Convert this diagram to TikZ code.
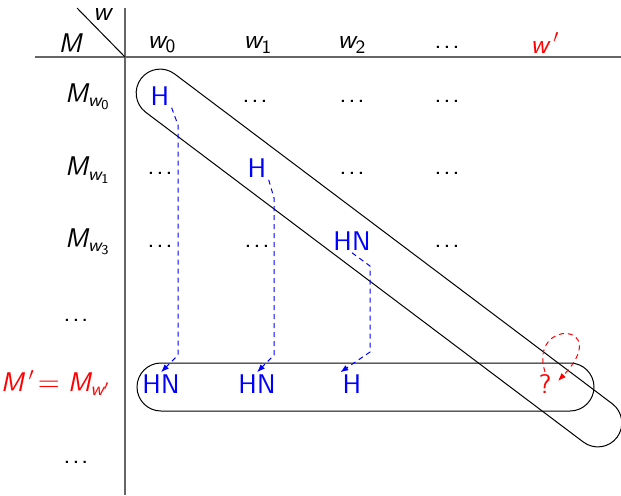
\documentclass[tikz,border=0pt]{standalone}
\usepackage{amsmath}
\usetikzlibrary{arrows.meta}
\newcommand{\vv}[1]{\textsf{\itshape #1}}
\newcommand{\dd}[1]{\textsf{#1}}
\newcommand{\dts}{.\kern0.8pt.\kern0.8pt.}
\begin{document}
\begin{tikzpicture}[x=0.5pt,y=-0.5pt,
  every node/.style={font=\sffamily\fontsize{13.5}{16}\selectfont, inner sep=1pt},
  rule/.style={draw=black!60, line width=0.7pt},
  cell/.style={anchor=center},
  hcell/.style={anchor=center, text=blue},
  rowlab/.style={anchor=east},
  capsule/.style={draw, line width=0.5pt, inner sep=0pt, rounded corners=12pt, minimum height=24pt},
  flow/.style={blue, dash pattern=on 2.5pt off 2pt, line width=0.5pt, -{Latex[length=4pt,width=3pt]}}
]
\useasboundingbox (0,0) rectangle (621,495);
% table rules
\coordinate (vt) at (125,8);
\coordinate (vb) at (125,495);
\coordinate (hl) at (35,57);
\coordinate (hr) at (621,57);
\coordinate (dg) at (77,8);
\coordinate (cr) at (125,57);
\draw[rule] (vt) -- (vb);
\draw[rule] (hl) -- (hr);
\draw[line width=0.5pt] (dg) -- (cr);
\node (hw) at (102,14) {$\vv{w}$};
\node (hM) at (70,43) {$\vv{M}$};
% column headers
\node (c0) at (162,45) {$\vv{w}_{\dd{0}}$};
\node (c1) at (258,45) {$\vv{w}_{\dd{1}}$};
\node (c2) at (352,45) {$\vv{w}_{\dd{2}}$};
\node (c3) at (447,47) {\dts};
\node[text=red] (c4) at (545,43) {$\vv{w}\,'$};
% row labels
\node[rowlab] (r0) at (113,97) {$\vv{M}_{\vv{w}_{\dd{0}}}$};
\node[rowlab] (r1) at (113,170) {$\vv{M}_{\vv{w}_{\dd{1}}}$};
\node[rowlab] (r2) at (113,242) {$\vv{M}_{\vv{w}_{\dd{3}}}$};
\node[rowlab] (r3) at (91,320) {\dts};
\node[rowlab,text=red] (r4) at (113,383) {$\vv{M}\,'\mkern-3mu = \vv{M}_{\vv{w}'}$};
\node[rowlab] (r5) at (91,462) {\dts};
% cells
\node[hcell] (h00) at (160,96) {H};
\node[cell] (h01) at (255,101) {\dts};
\node[cell] (h02) at (352,101) {\dts};
\node[cell] (h03) at (447,101) {\dts};
\node[cell] (h10) at (160,173) {\dts};
\node[hcell] (h11) at (257,168) {H};
\node[cell] (h12) at (352,173) {\dts};
\node[cell] (h13) at (447,173) {\dts};
\node[cell] (h20) at (160,246) {\dts};
\node[cell] (h21) at (257,246) {\dts};
\node[hcell] (h22) at (352,241) {HN};
\node[cell] (h23) at (447,246) {\dts};
\node[hcell] (h40) at (161,384) {HN};
\node[hcell] (h41) at (257,384) {HN};
\node[hcell] (h42) at (352,384) {H};
\node[cell,text=red] (h44) at (545,384) {?};
% capsules
\node[capsule, minimum width=298pt, rotate=-37] (diag) at (379,258) {};
\node[capsule, minimum width=228.5pt] (hcap) at (365.5,387) {};
% flows
\coordinate (a0) at (178,125);
\coordinate (b0) at (178,355);
\coordinate (a1) at (274,198);
\coordinate (b1) at (274,355);
\coordinate (a2) at (370,266);
\coordinate (b2) at (370,352);
\coordinate (qend) at (558,381);
\draw[flow] (h00.south east) -- (a0) -- (b0) -- (h40.north);
\draw[flow] (h11.south east) -- (a1) -- (b1) -- (h41.north);
\draw[flow] (h22.south) -- (a2) -- (b2) -- (h42.north west);
\draw[flow,red] (h44.north) .. controls (528,318) and (614,322) .. (qend);
\end{tikzpicture}
\end{document}
